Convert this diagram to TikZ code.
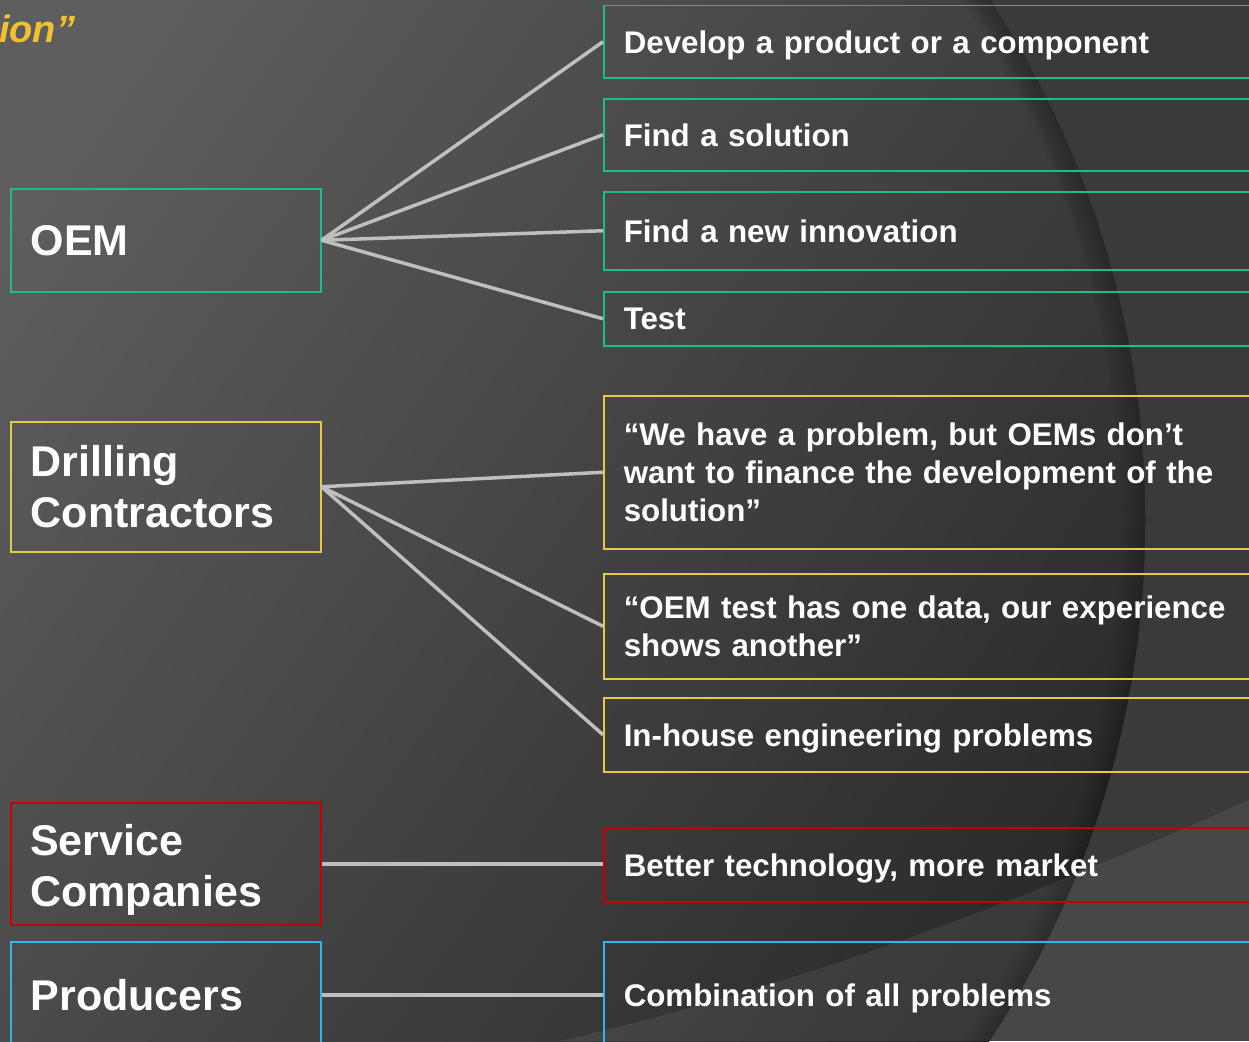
\documentclass[tikz,border=0pt]{standalone}
\usepackage{fontspec}
\setmainfont{Liberation Sans}
\definecolor{bgout}{HTML}{3A3A3A}
\definecolor{bglight}{HTML}{5E5E5E}
\definecolor{bgdark}{HTML}{272727}
\definecolor{cteal}{HTML}{1CBC8E}
\definecolor{cyel}{HTML}{E6C84A}
\definecolor{cred}{HTML}{C80000}
\definecolor{cblue}{HTML}{2EB6E6}
\definecolor{cconn}{HTML}{BFBFBF}
\definecolor{ctitle}{HTML}{F2C12E}
\tikzset{
  lbox/.style={draw, line width=1.5pt, anchor=north west, minimum width=310pt,
    text width=270pt, inner xsep=20pt, inner ysep=0pt, align=left, text=white,
    font=\fontsize{43}{51}\selectfont\bfseries},
  rbox/.style={draw, line width=1.5pt, anchor=north west, minimum width=700pt,
    text width=660pt, inner xsep=20pt, inner ysep=0pt, align=left, text=white,
    font=\fontsize{31.3}{38}\selectfont\bfseries},
  oneline/.style={text depth=0pt},
  conn/.style={draw=cconn, line width=3.5pt},
}
\begin{document}
\begin{tikzpicture}[x=1pt,y=-1pt]
\useasboundingbox (0,0) rectangle (1249,1041);
\clip (0,0) rectangle (1249,1041);
% background
\fill[bgout] (0,0) rectangle (1249,1041);
\begin{scope}
  \clip (195,520) circle [radius=950];
  \shade[top color=bglight, bottom color=bgdark, shading angle=55] (-100,-100) rectangle (1300,1141);
  \foreach \w in {4,8,...,48} {
    \draw[black, opacity=0.018, line width=\w pt] (195,520) circle [radius=950];
  }
\end{scope}
\fill[white, opacity=0.07] (560,1041) .. controls (800,985) and (1000,910) .. (1249,800) -- (1249,1041) -- cycle;
% title fragment
\node[anchor=base west, inner sep=0pt, text=ctitle, font=\fontsize{38}{44}\selectfont\bfseries\itshape] (title) at (-1,42) {ion”};
% left boxes
\node[lbox, draw=cteal, minimum height=103pt] (oem) at (10,188) {OEM};
\node[lbox, draw=cyel, minimum height=130pt] (drill) at (10,421) {Drilling\\Contractors};
\node[lbox, draw=cred, minimum height=122pt] (serv) at (10,802) {};
\node[anchor=north west, inner sep=0pt, text width=270pt, align=left, text=white,
  font=\fontsize{43}{51}\selectfont\bfseries] (servtxt) at (30,824) {Service\\Companies};
\node[lbox, draw=cblue, minimum height=106pt] (prod) at (10,941) {Producers};
% right boxes
\node[rbox, oneline, draw=cteal, minimum height=72pt] (r1) at (603,5) {Develop a product or a component};
\node[rbox, oneline, draw=cteal, minimum height=72pt] (r2) at (603,98) {Find a solution};
\node[rbox, oneline, draw=cteal, minimum height=78pt] (r3) at (603,191) {Find a new innovation};
\node[rbox, oneline, draw=cteal, minimum height=54pt] (r4) at (603,291) {Test};
\node[rbox, draw=cyel, minimum height=153pt] (r5) at (603,395) {“We have a problem, but OEMs don’t\\want to finance the development of the\\solution”};
\node[rbox, draw=cyel, minimum height=105pt] (r6) at (603,573) {“OEM test has one data, our experience\\shows another”};
\node[rbox, oneline, draw=cyel, minimum height=74pt] (r7) at (603,697) {In-house engineering problems};
\node[rbox, oneline, draw=cred, minimum height=74pt] (r8) at (603,827) {Better technology, more market};
\node[rbox, oneline, draw=cblue, minimum height=106pt] (r9) at (603,941) {Combination of all problems};
% connectors
\foreach \t in {r1,r2,r3,r4} { \draw[conn] (oem.east) -- (\t.west); }
\foreach \t in {r5,r6,r7} { \draw[conn] (drill.east) -- (\t.west); }
\draw[conn] (serv.east) -- (serv.east -| r8.west);
\draw[conn] (prod.east) -- (r9.west);
\end{tikzpicture}
\end{document}
